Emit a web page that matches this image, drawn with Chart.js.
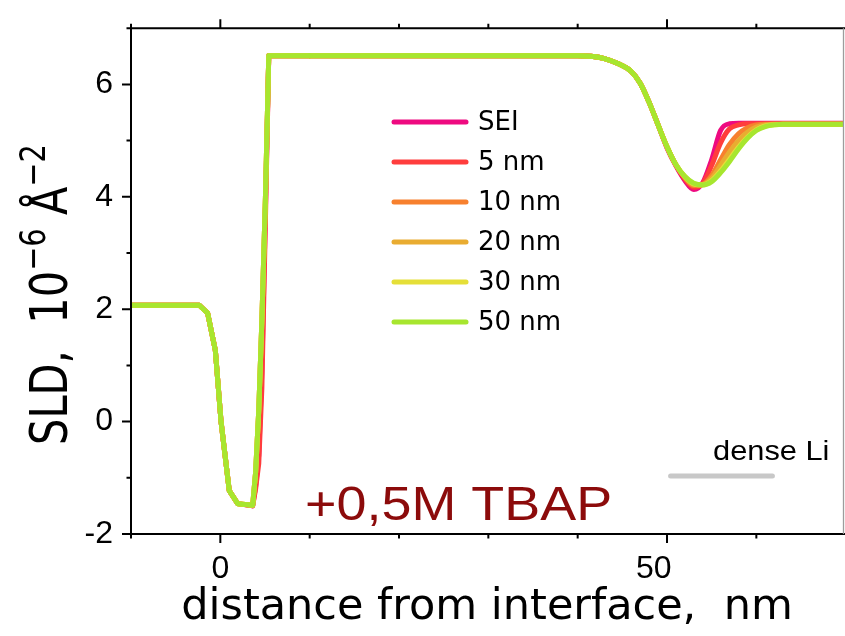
<!DOCTYPE html>
<html>
<head>
<meta charset="utf-8">
<script src="https://cdn.jsdelivr.net/npm/chart.js@4.4.1/dist/chart.umd.min.js"></script>
<style>
  html, body { margin: 0; padding: 0; background: #fff; overflow: hidden; }
  canvas { display: block; }
</style>
</head>
<body>
<canvas id="sld" width="845" height="636"></canvas>
<script>
// Depth grid (nm) shared by all SLD profiles
const depth = [-10, -5, -2.35, -1.42, -0.56, 0.08, 1.0, 1.94,
  3.62, 3.95, 4.3, 4.65, 5.05, 5.42,
  10, 20, 30, 40,
  41.5, 43, 44.5, 46,
  47, 48, 49, 50, 51, 52, 53, 54, 55, 56, 57, 58, 59, 60, 61, 62, 63, 64,
  70];

// SLD profiles, 10^-6 A^-2
const sldSEI = [2.07, 2.07, 2.07, 1.93, 1.27, 0.0, -1.23, -1.46,
  -1.5, -1.15, -0.6, 0.9, 3.8, 6.51,
  6.51, 6.51, 6.51, 6.51,
  6.5, 6.46, 6.37, 6.23,
  6.02, 5.68, 5.28, 4.87, 4.55, 4.29, 4.13, 4.25, 4.66, 5.18, 5.3, 5.31, 5.31, 5.31, 5.31, 5.31, 5.31, 5.31,
  5.31];
const sld5nm = [2.07, 2.07, 2.07, 1.93, 1.27, 0.0, -1.23, -1.46,
  -1.5, -1.2, -0.75, 0.6, 3.6, 6.51,
  6.51, 6.51, 6.51, 6.51,
  6.5, 6.46, 6.37, 6.23,
  6.02, 5.68, 5.28, 4.88, 4.56, 4.32, 4.17, 4.24, 4.56, 4.96, 5.21, 5.28, 5.3, 5.3, 5.3, 5.3, 5.3, 5.3,
  5.3];
const sld10nm = [2.07, 2.07, 2.07, 1.93, 1.27, 0.0, -1.23, -1.46,
  -1.49, -0.9, 0.2, 1.8, 4.0, 6.51,
  6.51, 6.51, 6.51, 6.51,
  6.5, 6.46, 6.37, 6.23,
  6.02, 5.68, 5.28, 4.89, 4.57, 4.34, 4.2, 4.22, 4.38, 4.66, 4.93, 5.12, 5.23, 5.28, 5.29, 5.29, 5.29, 5.29,
  5.29];
const sld20nm = [2.07, 2.07, 2.07, 1.93, 1.27, 0.0, -1.23, -1.46,
  -1.49, -0.9, 0.2, 1.8, 4.0, 6.51,
  6.51, 6.51, 6.51, 6.51,
  6.5, 6.46, 6.37, 6.23,
  6.02, 5.68, 5.28, 4.89, 4.57, 4.35, 4.22, 4.22, 4.33, 4.56, 4.8, 5.0, 5.15, 5.24, 5.28, 5.29, 5.29, 5.29,
  5.29];
const sld30nm = [2.07, 2.07, 2.07, 1.93, 1.27, 0.0, -1.23, -1.46,
  -1.49, -0.9, 0.2, 1.8, 4.0, 6.51,
  6.51, 6.51, 6.51, 6.51,
  6.5, 6.46, 6.37, 6.23,
  6.02, 5.68, 5.28, 4.89, 4.57, 4.36, 4.23, 4.21, 4.29, 4.46, 4.67, 4.88, 5.06, 5.19, 5.26, 5.28, 5.29, 5.29,
  5.29];
const sld50nm = [2.07, 2.07, 2.07, 1.93, 1.27, 0.0, -1.23, -1.46,
  -1.49, -0.9, 0.2, 1.8, 4.0, 6.51,
  6.51, 6.51, 6.51, 6.51,
  6.5, 6.46, 6.37, 6.23,
  6.02, 5.68, 5.28, 4.89, 4.57, 4.36, 4.24, 4.21, 4.27, 4.43, 4.63, 4.85, 5.04, 5.18, 5.25, 5.28, 5.29, 5.29,
  5.29];

// Reference level of dense lithium
const denseLiX = [50.4, 61.8];
const denseLiY = [-0.97, -0.97];

const seriesLabels = ['SEI', '5 nm', '10 nm', '20 nm', '30 nm', '50 nm'];
const seriesColors = ['#ee0a80', '#ff3d3d', '#f7802e', '#e9ac31', '#e5df38', '#a7e62f'];
const seriesValues = [sldSEI, sld5nm, sld10nm, sld20nm, sld30nm, sld50nm];

const xTickLabels = { 0: '0', 50: '50   ' };
const yTickLabels = { '-2': '-2', 0: '0', 2: '2', 4: '4', 6: '6' };

const pts = (xs, ys) => xs.map((x, i) => ({ x, y: ys[i] }));

// The sharp substrate/Li interface is drawn as straight segments,
// the smooth SEI region beyond 10 nm with monotone cubic interpolation.
const joinIdx = depth.indexOf(10);

const datasets = [];
seriesValues.forEach((ys, i) => {
  const common = {
    label: seriesLabels[i],
    borderColor: seriesColors[i],
    backgroundColor: seriesColors[i],
    borderWidth: 5,
    pointRadius: 0,
    fill: false,
    borderJoinStyle: 'round',
    borderCapStyle: 'round',
    order: seriesValues.length - i
  };
  datasets.push(Object.assign({}, common, {
    showInLegend: true,
    tension: 0,
    data: pts(depth.slice(0, joinIdx + 1), ys.slice(0, joinIdx + 1))
  }));
  datasets.push(Object.assign({}, common, {
    showInLegend: false,
    cubicInterpolationMode: 'monotone',
    data: pts(depth.slice(joinIdx), ys.slice(joinIdx))
  }));
});
datasets.push({
  label: 'dense Li',
  showInLegend: false,
  data: pts(denseLiX, denseLiY),
  borderColor: '#c8c8c8',
  borderWidth: 5,
  pointRadius: 0,
  borderCapStyle: 'round',
  order: 20
});

const SANS = "'Liberation Sans', Arial, sans-serif";
const DEJAVU = "'DejaVu Sans', sans-serif";

// Frame, tick marks, legend, annotations and the y-axis title
const decorations = {
  id: 'decorations',
  afterDatasetsDraw(chart) {
    const { ctx, chartArea: a, scales: { x, y } } = chart;
    ctx.save();
    ctx.strokeStyle = '#000';
    ctx.lineWidth = 2;
    ctx.beginPath();
    ctx.moveTo(a.left, a.top - 1); ctx.lineTo(a.left, a.bottom + 1);
    ctx.moveTo(a.left - 1, a.bottom); ctx.lineTo(a.right + 2, a.bottom);
    ctx.moveTo(a.left - 1, a.top); ctx.lineTo(a.right + 2, a.top);
    // x ticks (bottom and top, outward)
    x.ticks.forEach(t => {
      if (t.value % 10 !== 0) return;
      const px = x.getPixelForValue(t.value);
      const len = t.value % 50 === 0 ? 9 : 4.5;
      ctx.moveTo(px, a.bottom); ctx.lineTo(px, a.bottom + len);
      ctx.moveTo(px, a.top); ctx.lineTo(px, a.top - len);
    });
    // y ticks (left, outward)
    y.ticks.forEach(t => {
      const py = y.getPixelForValue(t.value);
      const len = t.value % 2 === 0 ? 9 : 4.5;
      ctx.moveTo(a.left, py); ctx.lineTo(a.left - len, py);
    });
    ctx.stroke();
    // right spine at the edge of the figure
    ctx.strokeStyle = '#9c9c9c';
    ctx.lineWidth = 1.3;
    ctx.beginPath();
    ctx.moveTo(a.right + 0.5, a.top); ctx.lineTo(a.right + 0.5, a.bottom);
    ctx.stroke();
    ctx.restore();
  },
  afterDraw(chart) {
    const { ctx, scales: { x, y } } = chart;
    ctx.save();

    // legend
    const rows = chart.data.datasets.filter(d => d.showInLegend);
    ctx.font = '26px ' + DEJAVU;
    ctx.textBaseline = 'middle';
    ctx.textAlign = 'left';
    ctx.lineCap = 'round';
    ctx.lineWidth = 5;
    rows.forEach((d, i) => {
      const ry = 122 + i * 40;
      ctx.strokeStyle = d.borderColor;
      ctx.beginPath();
      ctx.moveTo(394, ry); ctx.lineTo(466, ry);
      ctx.stroke();
      ctx.fillStyle = '#000';
      ctx.fillText(d.label, 478, ry + 1);
    });

    // electrolyte label
    ctx.textBaseline = 'alphabetic';
    ctx.save();
    ctx.translate(x.getPixelForValue(9.48), y.getPixelForValue(-1.756));
    ctx.scale(1.1, 1);
    ctx.font = '49px ' + SANS;
    ctx.fillStyle = '#8c0b0b';
    ctx.fillText('+0,5M TBAP', 0, 0);
    ctx.restore();

    // dense Li label
    ctx.save();
    ctx.translate(x.getPixelForValue(55.15), y.getPixelForValue(-0.69));
    ctx.scale(1.1, 1);
    ctx.font = '28px ' + SANS;
    ctx.fillStyle = '#000';
    ctx.fillText('dense Li', 0, 0);
    ctx.restore();

    // y-axis title with superscripts
    ctx.save();
    ctx.translate(67, 445);
    ctx.rotate(-Math.PI / 2);
    ctx.scale(0.8, 1);
    ctx.fillStyle = '#000';
    const big = '52px ' + DEJAVU, small = '36px ' + DEJAVU;
    const parts = [
      { t: 'SLD,  10', f: big, dy: 0 },
      { t: '\u22126', f: small, dy: -22 },
      { t: ' \u00C5', f: big, dy: 0 },
      { t: '\u22122', f: small, dy: -22 }
    ];
    let cx = 0;
    parts.forEach(p => {
      ctx.font = p.f;
      ctx.fillText(p.t, cx, p.dy);
      cx += ctx.measureText(p.t).width;
    });
    ctx.restore();

    ctx.restore();
  }
};

new Chart(document.getElementById('sld'), {
  type: 'line',
  data: { datasets },
  options: {
    responsive: false,
    animation: false,
    devicePixelRatio: 1,
    layout: { padding: { top: 19, right: 2, left: 0, bottom: 0 } },
    plugins: { legend: { display: false }, tooltip: { enabled: false } },
    scales: {
      x: {
        type: 'linear',
        position: 'bottom',
        min: -10,
        max: 69.7,
        afterFit: s => { s.height = 102; },
        grid: { display: false, drawTicks: true, tickLength: 9 },
        border: { display: false },
        ticks: {
          stepSize: 10,
          includeBounds: false,
          autoSkip: false,
          maxRotation: 0,
          padding: 7,
          color: '#000',
          font: { family: SANS, size: 32 },
          callback: v => xTickLabels[v] !== undefined ? xTickLabels[v] : ''
        },
        title: {
          display: true,
          text: 'distance from interface,  nm',
          color: '#000',
          font: { family: DEJAVU, size: 43 },
          padding: { top: 0, bottom: 2 }
        }
      },
      y: {
        type: 'linear',
        min: -2,
        max: 7,
        afterFit: s => { s.width = 131; },
        grid: { display: false, drawTicks: true, tickLength: 9 },
        border: { display: false },
        ticks: {
          stepSize: 1,
          autoSkip: false,
          padding: 9,
          color: '#000',
          font: { family: SANS, size: 32 },
          callback: v => yTickLabels[v] !== undefined ? yTickLabels[v] : ''
        }
      }
    }
  },
  plugins: [decorations]
});
</script>
</body>
</html>
